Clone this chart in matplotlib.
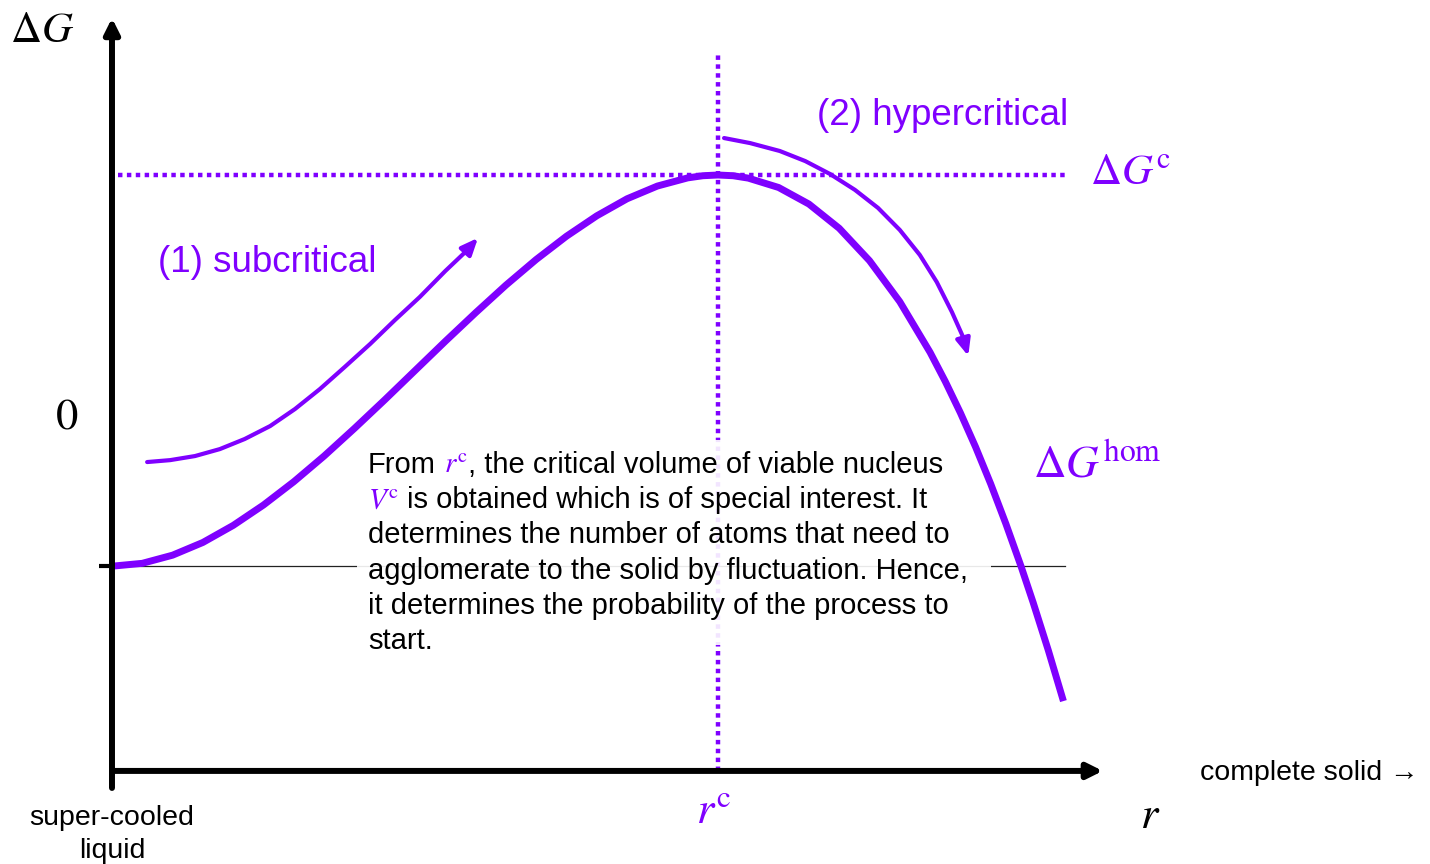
import matplotlib
matplotlib.use("Agg")
import matplotlib.pyplot as plt
from matplotlib.patches import FancyArrowPatch, Rectangle
from matplotlib.path import Path

plt.rcParams["mathtext.fontset"] = "stix"
SANS = "Liberation Sans"
PURPLE = "#7f00ff"

# Gibbs energy of homogeneous nucleation vs. nucleus radius
# (r in units of r^c, dG in units of dG^c)
r_hom = [0.000, 0.050, 0.100, 0.150, 0.200, 0.250, 0.300, 0.350, 0.400, 0.450,
         0.500, 0.550, 0.600, 0.650, 0.700, 0.750, 0.800, 0.850, 0.900, 0.950,
         0.975, 1.000, 1.025, 1.050, 1.100, 1.150, 1.200, 1.250, 1.300, 1.350,
         1.375, 1.400, 1.425, 1.450, 1.475, 1.500, 1.520, 1.545, 1.570]
dG_hom = [-0.630, -0.618, -0.584, -0.531, -0.460, -0.375, -0.278, -0.171, -0.056,
          0.063, 0.185, 0.307, 0.426, 0.541, 0.648, 0.745, 0.830, 0.901, 0.954,
          0.988, 0.997, 1.000, 0.997, 0.987, 0.948, 0.879, 0.778, 0.643, 0.472,
          0.261, 0.140, 0.009, -0.133, -0.287, -0.453, -0.630, -0.781, -0.980,
          -1.192]

# path of a subcritical cluster (growing towards the barrier)
r_sub = [0.058, 0.096, 0.137, 0.178, 0.219, 0.261, 0.302, 0.343, 0.384, 0.426,
         0.467, 0.508, 0.550, 0.583, 0.604]
dG_sub = [-0.196, -0.188, -0.171, -0.142, -0.100, -0.046, 0.025, 0.108, 0.200,
          0.296, 0.396, 0.492, 0.600, 0.679, 0.738]

# path of a hypercritical nucleus (growing down the slope)
r_hyp = [1.010, 1.053, 1.102, 1.144, 1.185, 1.226, 1.264, 1.300, 1.333, 1.361,
         1.386, 1.403, 1.413]
dG_hyp = [1.154, 1.133, 1.100, 1.058, 1.004, 0.938, 0.863, 0.771, 0.667, 0.554,
          0.429, 0.333, 0.246]

r_crit = 1.0
dG_crit = 1.0
dG_liquid = -0.63

paragraph = [
    [("From", "k"), None, (r"$r^{\mathrm{c}}$", PURPLE),
     (", the critical volume of viable nucleus", "k")],
    [(r"$V^{\mathrm{c}}$", PURPLE), None,
     ("is obtained which is of special interest. It", "k")],
    [("determines the number of atoms that need to", "k")],
    [("agglomerate to the solid by fluctuation. Hence,", "k")],
    [("it determines the probability of the process to", "k")],
    [("start.", "k")],
]

fig = plt.figure(figsize=(14.3, 8.64), dpi=100)
ax = fig.add_axes([0, 0, 1, 1])
ax.set_xlim(-0.1848, 2.1749)
ax.set_ylim(-1.8708, 1.7292)
ax.axis("off")

# coordinate axes with arrow heads
r_end, g_top, g_bot = 1.635, 1.654, -1.483
ax.add_patch(FancyArrowPatch((0, -1.554), (0, g_top),
                             arrowstyle="-|>,head_length=0.9,head_width=0.45",
                             mutation_scale=10, lw=4.3, color="k", zorder=6,
                             shrinkA=0, shrinkB=0))
ax.add_patch(FancyArrowPatch((0, g_bot), (r_end, g_bot),
                             arrowstyle="-|>,head_length=0.9,head_width=0.45",
                             mutation_scale=10, lw=4.3, color="k", zorder=6,
                             shrinkA=0, shrinkB=0))

# level of the super-cooled liquid
ax.plot([0, 1.573], [dG_liquid, dG_liquid], color="#222222", lw=0.9, zorder=2)
ax.plot([-0.0215, 0], [dG_liquid, dG_liquid], color="k", lw=3, zorder=6,
        solid_capstyle="butt")

# critical radius and barrier height
ax.plot([0.01, 1.578], [dG_crit, dG_crit], color=PURPLE, lw=3.2,
        linestyle=(0, (1, 1)), zorder=2)
ax.plot([r_crit, r_crit], [g_bot, 1.513], color=PURPLE, lw=3.2,
        linestyle=(0, (1, 1)), zorder=2)

# homogeneous nucleation curve
ax.plot(r_hom, dG_hom, color=PURPLE, lw=5, zorder=5, solid_capstyle="butt",
        solid_joinstyle="round")

# growth paths
for rs, gs in ((r_sub, dG_sub), (r_hyp, dG_hyp)):
    ax.add_patch(FancyArrowPatch(path=Path(list(zip(rs, gs))),
                                 arrowstyle="-|>,head_length=1.0,head_width=0.43",
                                 mutation_scale=10, lw=3, color=PURPLE, zorder=5,
                                 joinstyle="round"))

# explanatory paragraph on a white panel
ax.add_patch(Rectangle((0.404, -0.958), 1.046, 0.854, facecolor="white",
                       edgecolor="none", alpha=0.9, zorder=4))

fig.canvas.draw()
renderer = fig.canvas.get_renderer()


def text_width_data(t):
    bb = t.get_window_extent(renderer)
    x0 = ax.transData.inverted().transform((bb.x0, 0))[0]
    x1 = ax.transData.inverted().transform((bb.x1, 0))[0]
    return x1 - x0


probe1 = ax.text(0, 0, "x x", fontsize=21, family=SANS)
probe2 = ax.text(0, 0, "xx", fontsize=21, family=SANS)
space_w = text_width_data(probe1) - text_width_data(probe2)
probe1.remove()
probe2.remove()

x_left = 0.4224
base0 = (415 - 473) / 240.0
step = 35.2 / 240.0
for i, line in enumerate(paragraph):
    x = x_left
    y = base0 - i * step
    for piece in line:
        if piece is None:
            x += space_w
            continue
        s, c = piece
        t = ax.text(x, y, s, color=c, fontsize=21, family=SANS,
                    ha="left", va="baseline", zorder=7)
        x += text_width_data(t)

# labels
ax.text(-0.1155, 1.604, r"$\Delta G$", fontsize=31, color="k",
        ha="center", va="center")
ax.text(-0.0743, -0.004, r"$0$", fontsize=32, color="k",
        ha="center", va="center")
ax.text(0.0, -1.625, "super-cooled\nliquid", fontsize=20.5, family=SANS,
        ha="center", va="top", linespacing=1.35)
ax.text(1.795, -1.492, "complete solid \u2192", fontsize=20.5, family=SANS,
        ha="left", va="center")
ax.text(1.713, -1.667, r"$r$", fontsize=32, color="k", ha="center", va="center")
ax.text(0.992, -1.646, r"$r^{\mathrm{c}}$", fontsize=32, color=PURPLE,
        ha="center", va="center")
ax.text(1.614, 1.0125, r"$\Delta G^{\mathrm{c}}$", fontsize=31, color=PURPLE,
        ha="left", va="center")
ax.text(1.520, -0.208, r"$\Delta G^{\mathrm{hom}}$", fontsize=32.5, color=PURPLE,
        ha="left", va="center")
ax.text(0.076, 0.6375, "(1) subcritical", fontsize=26.5, family=SANS,
        color=PURPLE, ha="left", va="center")
ax.text(1.163, 1.246, "(2) hypercritical", fontsize=26.5, family=SANS,
        color=PURPLE, ha="left", va="center")

fig.savefig("out.png", dpi=100)
